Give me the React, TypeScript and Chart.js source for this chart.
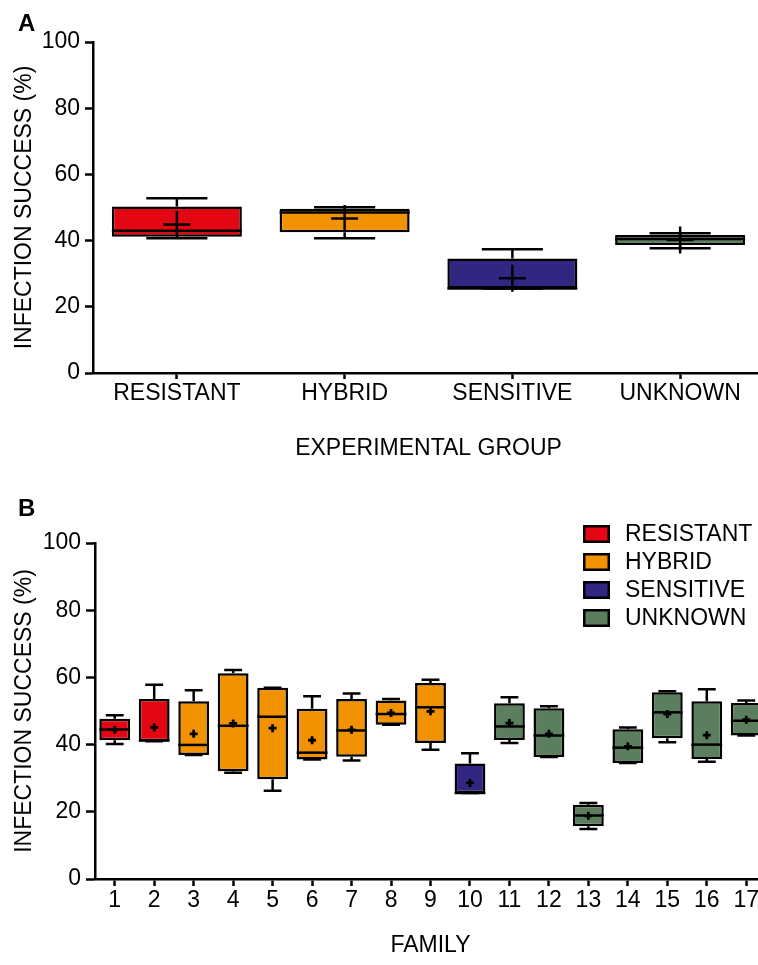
import React, { useEffect, useRef } from 'react';
import { Chart, registerables } from 'chart.js';

Chart.register(...registerables);

// ---------- Data ----------
const groupLabels = ['RESISTANT', 'HYBRID', 'SENSITIVE', 'UNKNOWN'];
const groupColors = ['#E30613', '#F39200', '#312782', '#5B7F5E'];
const groupMin = [40.7, 40.7, 25.5, 37.7];
const groupQ1 = [41.2, 42.5, 25.5, 38.7];
const groupMedian = [43.0, 48.5, 25.5, 40.5];
const groupQ3 = [50.3, 49.6, 34.6, 41.7];
const groupMax = [52.8, 50.1, 37.4, 42.2];
const groupMean = [44.9, 46.7, 28.6, 40.2];

const familyLabels = ['1', '2', '3', '4', '5', '6', '7', '8', '9', '10', '11', '12', '13', '14', '15', '16', '17'];
const familyGroup = [0, 0, 1, 1, 1, 1, 1, 1, 1, 2, 3, 3, 3, 3, 3, 3, 3];
const familyMin = [40.2, 41.0, 36.9, 31.6, 26.3, 35.6, 35.3, 45.9, 38.5, 25.6, 40.5, 36.3, 14.9, 34.5, 40.7, 34.9, 42.7];
const familyQ1 = [41.3, 41.0, 36.9, 32.1, 29.7, 35.6, 36.4, 45.9, 40.5, 25.6, 41.4, 36.3, 15.7, 34.5, 41.9, 35.7, 42.7];
const familyMedian = [44.5, 41.2, 39.9, 45.6, 48.3, 37.6, 44.2, 49.1, 51.1, 25.6, 45.4, 42.7, 18.9, 39.1, 49.6, 40.0, 47.1];
const familyQ3 = [47.7, 53.6, 52.9, 61.2, 56.9, 50.7, 53.6, 53.1, 58.3, 34.4, 52.3, 50.8, 22.1, 44.6, 55.6, 52.9, 52.4];
const familyMax = [48.7, 57.8, 56.2, 62.2, 56.9, 54.4, 55.2, 53.6, 59.3, 37.4, 54.1, 51.4, 22.6, 45.1, 55.9, 56.5, 53.1];
const familyMean = [44.4, 45.1, 43.2, 46.3, 44.9, 41.3, 44.4, 49.4, 49.9, 28.6, 46.4, 43.2, 18.8, 39.5, 49.1, 42.8, 47.4];

const yTicks = [0, 20, 40, 60, 80, 100];
const yTitle = 'INFECTION SUCCESS (%)';
const xTitleA = 'EXPERIMENTAL GROUP';
const xTitleB = 'FAMILY';

// ---------- Styles ----------
const FONT = '"Liberation Sans", Arial, Helvetica, sans-serif';
const INK = '#000000';
const LW = 2.5;

const BOX_DS = 1;

const boxExtras = {
  id: 'boxExtras',
  beforeDatasetsDraw(chart: any) {
    const o = chart.options.plugins.boxExtras;
    if (!o) return;
    const meta = chart.getDatasetMeta(BOX_DS);
    const y = chart.scales.y;
    const ctx = chart.ctx;
    ctx.save();
    ctx.strokeStyle = INK;
    ctx.lineWidth = o.lineWidth;
    meta.data.forEach((bar: any, i: number) => {
      const { x, width } = bar.getProps(['x', 'width'], true);
      const half = (width * o.capRatio) / 2;
      const pMin = y.getPixelForValue(o.min[i]);
      const pMax = y.getPixelForValue(o.max[i]);
      const pQ1 = y.getPixelForValue(o.q1[i]);
      const pQ3 = y.getPixelForValue(o.q3[i]);
      ctx.beginPath();
      ctx.moveTo(x, pQ3);
      ctx.lineTo(x, pMax);
      ctx.moveTo(x, pQ1);
      ctx.lineTo(x, pMin);
      ctx.moveTo(x - half, pMax);
      ctx.lineTo(x + half, pMax);
      ctx.moveTo(x - half, pMin);
      ctx.lineTo(x + half, pMin);
      ctx.stroke();
    });
    ctx.restore();
  },
  afterDatasetsDraw(chart: any) {
    const o = chart.options.plugins.boxExtras;
    if (!o) return;
    const meta = chart.getDatasetMeta(BOX_DS);
    const y = chart.scales.y;
    const ctx = chart.ctx;
    ctx.save();
    ctx.strokeStyle = INK;
    ctx.lineWidth = o.lineWidth;
    meta.data.forEach((bar: any, i: number) => {
      const { x, width } = bar.getProps(['x', 'width'], true);
      const pMed = y.getPixelForValue(o.median[i]);
      ctx.beginPath();
      ctx.moveTo(x - width / 2, pMed);
      ctx.lineTo(x + width / 2, pMed);
      ctx.stroke();
    });
    ctx.restore();
  },
  afterDraw(chart: any) {
    const o = chart.options.plugins.boxExtras;
    if (!o) return;
    const ctx = chart.ctx;
    ctx.save();
    ctx.fillStyle = INK;
    ctx.font = `bold 24px ${FONT}`;
    ctx.textBaseline = 'middle';
    ctx.textAlign = 'left';
    ctx.fillText(o.panel, o.panelX, o.panelY);
    if (o.legend) {
      const L = o.legend;
      ctx.font = `23px ${FONT}`;
      groupLabels.forEach((lab, i) => {
        const cy = L.y + i * L.step;
        ctx.fillStyle = groupColors[i];
        ctx.fillRect(L.x, cy - L.h / 2, L.w, L.h);
        ctx.strokeStyle = INK;
        ctx.lineWidth = 2.5;
        ctx.strokeRect(L.x + 1.25, cy - L.h / 2 + 1.25, L.w - 2.5, L.h - 2.5);
        ctx.fillStyle = INK;
        ctx.fillText(lab, L.textX, cy + 1);
      });
    }
    ctx.restore();
  },
};

function makeConfig(p: any) {
  return {
    type: 'bar',
    data: {
      labels: p.labels,
      datasets: [
        {
          type: 'line',
          data: p.mean,
          showLine: false,
          pointStyle: 'cross',
          pointRadius: p.meanRadius,
          pointBorderWidth: p.meanWidth,
          pointBorderColor: INK,
          pointBackgroundColor: INK,
          order: 0,
        },
        {
          type: 'bar',
          data: p.q1.map((v: number, i: number) => [v, p.q3[i]]),
          backgroundColor: p.colors,
          borderColor: INK,
          borderWidth: 2.5,
          borderSkipped: false,
          barPercentage: p.barPct,
          categoryPercentage: 1,
          order: 1,
        },
      ],
    },
    options: {
      responsive: false,
      animation: false,
      events: [],
      layout: { padding: { top: p.padTop, bottom: p.padBottom, left: 0, right: 14 } },
      plugins: {
        legend: { display: false },
        tooltip: { enabled: false },
        boxExtras: {
          min: p.min,
          q1: p.q1,
          median: p.median,
          q3: p.q3,
          max: p.max,
          capRatio: p.capRatio,
          lineWidth: LW,
          panel: p.panel,
          panelX: p.panelX,
          panelY: p.panelY,
          legend: p.legend,
        },
      },
      scales: {
        x: {
          type: 'category',
          offset: true,
          border: { display: true, color: INK, width: 2.5 },
          grid: {
            display: true,
            offset: false,
            drawOnChartArea: false,
            drawTicks: true,
            tickLength: p.xTickLen,
            tickColor: INK,
            tickWidth: 2.5,
          },
          ticks: {
            color: INK,
            font: { family: FONT, size: p.xTickFont },
            padding: 1,
            autoSkip: false,
            maxRotation: 0,
            minRotation: 0,
          },
          title: {
            display: true,
            text: p.xTitle,
            color: INK,
            font: { family: FONT, size: 23 },
            padding: { top: 0, bottom: p.xTitlePad },
          },
          afterFit: (s: any) => {
            s.height = p.xHeight;
          },
        },
        y: {
          type: 'linear',
          min: 0,
          max: 100,
          border: { display: true, color: INK, width: 2.5 },
          grid: {
            display: true,
            drawOnChartArea: false,
            drawTicks: true,
            tickLength: p.yTickLen,
            tickColor: INK,
            tickWidth: 2.5,
          },
          ticks: {
            color: INK,
            font: { family: FONT, size: 23 },
            padding: p.yTickPad,
          },
          afterBuildTicks: (s: any) => {
            s.ticks = yTicks.map((v) => ({ value: v }));
          },
          title: {
            display: true,
            text: yTitle,
            color: INK,
            font: { family: FONT, size: 23 },
            padding: { top: 11, bottom: 0 },
          },
          afterFit: (s: any) => {
            s.width = p.yWidth;
          },
        },
      },
    },
    plugins: [boxExtras],
  } as any;
}

export default function App() {
  const refA = useRef<HTMLCanvasElement>(null);
  const refB = useRef<HTMLCanvasElement>(null);

  useEffect(() => {
    const chartA = new Chart(
      refA.current as HTMLCanvasElement,
      makeConfig({
        labels: groupLabels,
        colors: groupColors,
        min: groupMin,
        q1: groupQ1,
        median: groupMedian,
        q3: groupQ3,
        max: groupMax,
        mean: groupMean,
        xTitle: xTitleA,
        padTop: 42,
        padBottom: 2,
        yWidth: 93,
        xHeight: 95,
        xTitlePad: 6,
        barPct: 0.775,
        capRatio: 0.47,
        meanRadius: 13.5,
        meanWidth: 2.5,
        xTickLen: 6,
        yTickLen: 8,
        yTickPad: 5,
        xTickFont: 23,
        panel: 'A',
        panelX: 18,
        panelY: 24,
      })
    );
    const familyColors = familyGroup.map((g) => groupColors[g]);
    const chartB = new Chart(
      refB.current as HTMLCanvasElement,
      makeConfig({
        labels: familyLabels,
        colors: familyColors,
        min: familyMin,
        q1: familyQ1,
        median: familyMedian,
        q3: familyQ3,
        max: familyMax,
        mean: familyMean,
        xTitle: xTitleB,
        padTop: 63,
        padBottom: 2,
        yWidth: 95,
        xHeight: 84,
        xTitlePad: 4,
        barPct: 0.78,
        capRatio: 0.58,
        meanRadius: 4,
        meanWidth: 2.8,
        xTickLen: 7,
        yTickLen: 9,
        yTickPad: 5,
        xTickFont: 23,
        panel: 'B',
        panelX: 18,
        panelY: 29,
        legend: { x: 583, y: 54, step: 28, w: 27, h: 18, textX: 625 },
      })
    );
    return () => {
      chartA.destroy();
      chartB.destroy();
    };
  }, []);

  return (
    <div
      style={{
        position: 'fixed',
        left: 0,
        top: 0,
        width: 758,
        height: 965,
        overflow: 'hidden',
        background: '#ffffff',
      }}
    >
      <canvas
        ref={refA}
        width={780}
        height={470}
        style={{ position: 'absolute', left: 0, top: 0, width: 780, height: 470, display: 'block' }}
      />
      <canvas
        ref={refB}
        width={780}
        height={485}
        style={{ position: 'absolute', left: 0, top: 480, width: 780, height: 485, display: 'block' }}
      />
    </div>
  );
}
